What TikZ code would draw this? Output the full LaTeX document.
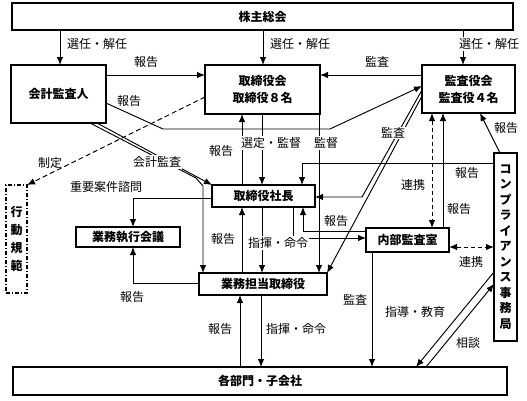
\documentclass[tikz,border=0pt]{standalone}
\usepackage{fontspec}
\setmainfont{Noto Sans CJK JP}
\usetikzlibrary{arrows.meta}
\begin{document}
\begin{tikzpicture}[x=1pt,y=-1pt,
  box/.style={draw,line width=1.1pt,inner sep=0pt,outer sep=0pt,font=\bfseries\fontsize{12}{14}\selectfont,align=center},
  lab/.style={font=\fontsize{12}{14}\selectfont,inner sep=1pt},
  wlab/.style={lab,fill=white},
  arr/.style={line width=0.95pt,-{Latex[length=8pt,width=6.5pt]}},
  darr/.style={line width=0.95pt,{Latex[length=8pt,width=6.5pt]}-{Latex[length=8pt,width=6.5pt]},dash pattern=on 4pt off 3pt},
]
\useasboundingbox (0,0) rectangle (527,400);
% boxes
\node[box,minimum width=501pt,minimum height=27pt] (sh) at (262.5,16.5) {株主総会};
\node[box,minimum width=95pt,minimum height=58pt] (kk) at (58.5,94) {会計監査人};
\node[box,minimum width=115pt,minimum height=49pt,font=\bfseries\fontsize{12}{17}\selectfont] (tk) at (262.5,89.5) {取締役会\\取締役８名};
\node[box,minimum width=93pt,minimum height=48pt,font=\bfseries\fontsize{12}{17}\selectfont] (ka) at (468.5,89) {監査役会\\監査役４名};
\node[box,dash pattern=on 4pt off 2pt on 1pt off 2pt,minimum width=21pt,minimum height=108pt,font=\bfseries\fontsize{12}{18}\selectfont] (kodo) at (16.5,239) {行\\動\\規\\範};
\node[box,minimum width=103pt,minimum height=22pt] (sc) at (263.5,196) {取締役社長};
\node[box,minimum width=104pt,minimum height=20pt] (gs) at (128,237) {業務執行会議};
\node[box,minimum width=128pt,minimum height=22pt] (gt) at (263,284) {業務担当取締役};
\node[box,minimum width=83pt,minimum height=24pt] (nb) at (407.5,240) {内部監査室};
\node[box,minimum width=23pt,minimum height=188pt,font=\bfseries\fontsize{12}{15.5}\selectfont] (cp) at (505.5,247) {コ\\ン\\プ\\ラ\\イ\\ア\\ン\\ス\\事\\務\\局};
\node[box,minimum width=494pt,minimum height=28pt] (bm) at (260,381) {各部門・子会社};
% top arrows
\draw[arr] (sh.south -| 60,0) -- (kk.north -| 60,0);
\node[lab] at (97,44) {選任・解任};
\draw[arr] (sh.south -| 263,0) -- (tk.north -| 263,0);
\node[lab] at (300,44) {選任・解任};
\draw[arr] (sh.south -| 463,0) -- (ka.north -| 463,0);
\node[wlab] at (489,44) {選任・解任};
% row 2
\draw[arr] (kk.east |- 0,75) -- (tk.west |- 0,75);
\node[lab] at (146,62) {報告};
\draw[arr] (ka.west |- 0,75) -- (tk.east |- 0,75);
\node[lab] at (377,62) {監査};
\draw[arr] (kk.east |- 0,103) -- (163,129) -- (330,129) -- (ka.west |- 0,86);
\node[lab] at (129,101) {報告};
\draw[arr,dash pattern=on 5pt off 3pt] (tk.west |- 0,97) -- (kodo.north east);
\node[lab] at (50,163) {制定};
% accounting audit double line
\draw[arr] (kk.south -| 97,0) -- (sc.north west);
\draw[arr] (kk.south -| 90,0) -- (196,178) -- (203,186) -- (gt.north -| 203,0);
\node[wlab] at (157,162) {会計監査};
% president links
\draw[arr] (sc.west |- 0,198) -- (133,198) -- (gs.north -| 133,0);
\node[lab] at (106,187) {重要案件諮問};
\draw[arr] (gt.west |- 0,283) -- (133,283) -- (gs.south -| 133,0);
\node[lab] at (132,297) {報告};
\draw[arr] (sc.north -| 242,0) -- (tk.south -| 242,0);
\node[lab] at (221,151) {報告};
\draw[arr] (tk.south -| 262,0) -- (sc.north -| 262,0);
\node[wlab] at (271,143) {選定・監督};
\draw[arr] (tk.south -| 319,0) -- (gt.north -| 319,0);
\node[wlab] at (326,143) {監督};
\draw[arr] (gt.north -| 242,0) -- (sc.south -| 242,0);
\node[lab] at (223,239) {報告};
\draw[arr] (sc.south -| 262,0) -- (gt.north -| 262,0);
\draw[arr] (sc.south -| 293,0) -- (293,238) -- (nb.west |- 0,238);
\node[wlab] at (278,243) {指揮・命令};
\draw[arr] (nb.west |- 0,231) -- (303,231) -- (sc.south -| 303,0);
\node[lab] at (336,221) {報告};
% audit board links
\draw[arr] (ka.west |- 0,90) -- (362,197) -- (sc.east |- 0,197);
\draw[arr] (ka.west |- 0,96) -- (gt.north east);
\node[wlab] at (393,133) {監査};
\draw[darr] (ka.south -| 432,0) -- (nb.north -| 432,0);
\node[lab] at (413,185) {連携};
\draw[arr] (nb.north -| 443,0) -- (ka.south -| 443,0);
\node[lab] at (459,209) {報告};
\draw[arr] (cp.north -| 500,0) -- (ka.south -| 480,0);
\node[lab] at (506,128) {報告};
\draw[arr] (cp.west |- 0,163) -- (302,163) -- (sc.north -| 302,0);
\node[lab] at (467,173) {報告};
\draw[darr] (nb.east |- 0,247) -- (cp.west |- 0,247);
\node[lab] at (471,262) {連携};
% bottom
\draw[arr] (nb.south -| 372,0) -- (bm.north -| 372,0);
\node[lab] at (355,300) {監査};
\draw[arr] (cp.west |- 0,272) -- (bm.north -| 416,0);
\draw[arr] (bm.north -| 426,0) -- (cp.west |- 0,284);
\node[lab] at (415,312) {指導・教育};
\node[lab] at (468,343) {相談};
\draw[arr] (bm.north -| 240,0) -- (gt.south -| 240,0);
\node[lab] at (220,329) {報告};
\draw[arr] (gt.south -| 261,0) -- (bm.north -| 261,0);
\node[lab] at (296,329) {指揮・命令};
\end{tikzpicture}
\end{document}
